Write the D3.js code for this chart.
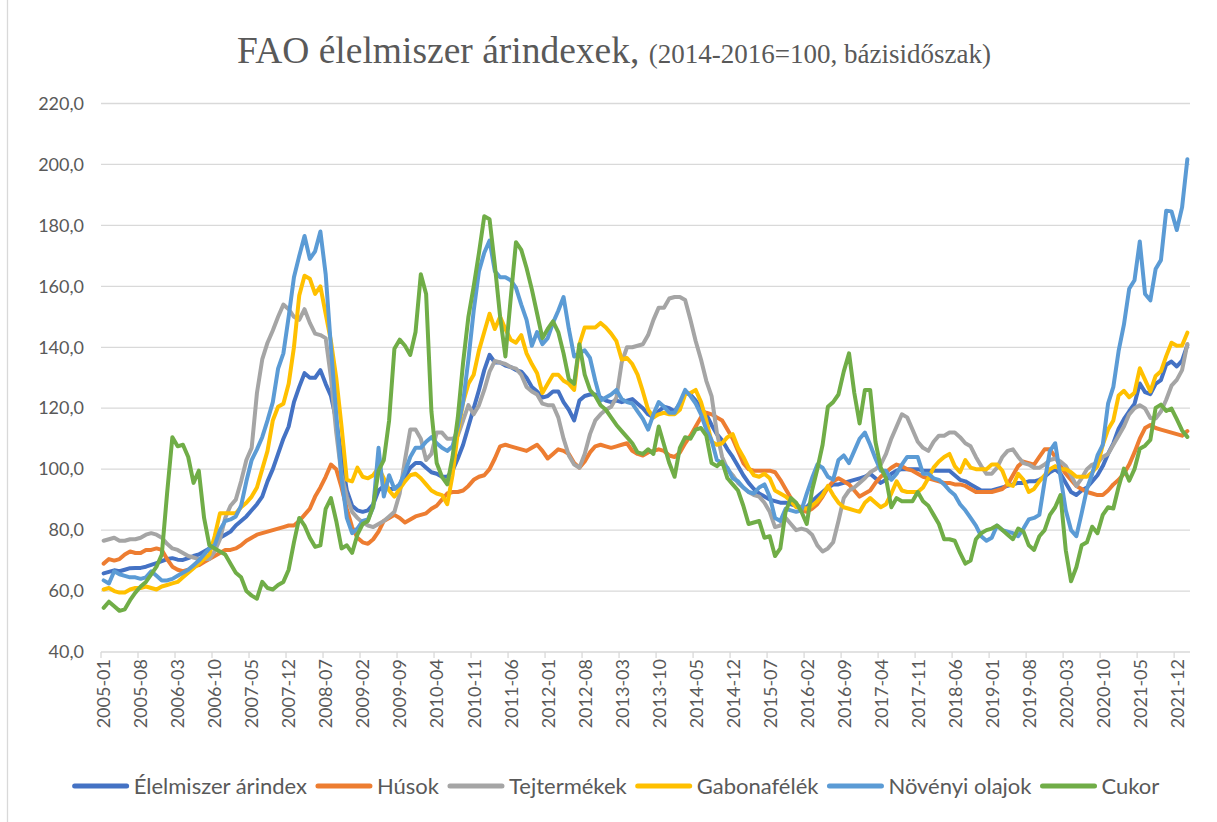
<!DOCTYPE html>
<html><head><meta charset="utf-8">
<script src="https://cdn.jsdelivr.net/npm/d3@7"></script>
<style>body{margin:0;background:#fff}svg{display:block}</style>
</head><body>
<svg id="chart" width="1217" height="822"></svg>
<script>
// ---- data (FAO indices, 2014-2016=100), monthly 2005-01 .. 2022-02 ----
const firstYear = 2005, lastYear = 2022, lastMonth = 2;
const categories = [];
for (let yy = firstYear; yy <= lastYear; yy++) {
  for (let mm = 1; mm <= 12; mm++) {
    if (yy === lastYear && mm > lastMonth) break;
    categories.push(yy + "-" + String(mm).padStart(2, "0"));
  }
}
const tickLabels = ["2005-01","2005-08","2006-03","2006-10","2007-05","2007-12","2008-07","2009-02","2009-09","2010-04","2010-11","2011-06","2012-01","2012-08","2013-03","2013-10","2014-05","2014-12","2015-07","2016-02","2016-09","2017-04","2017-11","2018-06","2019-01","2019-08","2020-03","2020-10","2021-05","2021-12"];
const yTicks = [40,60,80,100,120,140,160,180,200,220];

const elelmiszer = [
65.8,66.3,66.8,66.5,67.0,67.5,67.6,67.6,68.0,68.6,69.2,69.8,
70.5,70.8,70.3,70.2,70.8,71.5,72.0,73.0,74.0,75.5,77.5,78.5,
79.5,81.5,83.0,84.5,86.5,88.5,91.0,96.0,100.0,105.0,110.0,114.0,
122.0,127.0,131.5,130.0,130.0,132.5,128.0,124.0,116.0,104.0,93.0,88.0,
86.5,86.0,86.5,88.5,93.0,94.5,93.5,93.5,95.0,97.5,100.5,102.0,
102.0,100.5,99.0,98.5,97.5,97.5,99.5,103.5,108.0,114.0,120.0,126.0,
132.5,137.5,135.0,135.0,134.0,133.5,132.5,132.0,130.0,127.0,125.5,123.5,
124.0,125.5,125.5,122.0,119.5,116.0,122.5,124.0,124.5,124.5,123.5,122.5,
122.0,122.5,122.0,122.5,123.0,121.5,120.0,118.0,117.0,119.0,120.5,120.0,
119.0,121.5,125.0,124.5,122.5,120.0,118.0,114.5,111.5,109.5,106.5,104.0,
101.0,98.0,95.5,93.5,92.0,91.0,90.0,89.5,89.0,89.0,88.5,88.0,
87.5,87.5,89.5,91.0,92.5,94.0,95.0,95.0,95.5,96.0,96.5,97.0,
97.5,98.5,97.0,95.5,96.5,98.5,99.5,100.0,100.0,100.0,100.0,99.5,
99.5,99.5,99.5,99.5,99.5,98.0,96.5,96.0,95.0,94.0,93.0,93.0,
93.0,93.5,94.0,94.5,95.0,95.5,95.5,96.0,96.0,96.5,97.5,99.0,
100.0,98.5,95.5,92.5,91.5,93.0,94.0,96.0,98.0,101.0,105.0,108.5,
113.3,116.4,119.0,121.4,128.1,125.3,124.6,128.0,129.2,134.3,135.3,133.7,
135.6,140.7];

const husok = [
69.0,70.5,70.0,70.5,72.0,73.0,72.5,72.5,73.5,73.5,74.0,73.5,
70.5,68.0,67.0,66.5,67.0,68.0,68.5,69.5,70.5,71.5,72.5,73.5,
73.5,74.0,75.0,76.5,77.5,78.5,79.0,79.5,80.0,80.5,81.0,81.5,
81.5,83.0,85.0,87.0,91.0,94.0,97.5,101.5,100.0,94.0,87.0,81.0,
77.5,76.0,75.5,77.0,79.5,83.0,84.0,85.0,84.0,82.5,83.5,84.5,
85.0,85.5,87.0,88.0,90.0,92.0,92.5,92.5,93.0,94.5,96.5,97.5,
98.0,100.0,103.5,107.5,108.0,107.5,107.0,106.5,106.0,107.0,108.0,106.0,
103.5,105.0,106.5,106.0,105.0,102.0,100.5,102.5,105.5,107.5,108.0,107.5,
107.0,107.5,108.0,108.5,106.0,105.0,104.5,105.5,106.0,106.5,106.0,104.5,
104.0,105.5,108.5,111.0,114.0,117.0,118.5,118.0,117.0,116.0,113.0,110.0,
106.0,102.0,100.0,99.5,99.5,99.5,99.5,99.0,96.5,93.5,90.5,88.5,
86.5,86.0,87.0,88.5,91.0,94.0,96.0,97.0,96.0,95.0,93.0,91.0,
92.0,93.0,95.5,97.5,99.0,100.5,101.5,101.0,100.0,99.5,98.5,97.5,
97.0,96.5,96.0,95.5,95.5,95.0,95.0,94.5,93.5,92.5,92.5,92.5,
92.5,93.0,93.5,95.0,98.0,101.0,102.5,102.0,101.5,104.0,106.5,106.5,
104.0,101.0,98.5,96.5,94.5,93.5,92.5,92.0,91.5,91.5,93.0,95.0,
96.5,98.5,101.5,105.5,110.0,113.5,114.5,113.5,113.0,112.5,112.0,111.5,
111.0,112.5];

const tejtermekek = [
76.5,77.0,77.5,76.5,76.5,77.0,77.0,77.5,78.5,79.0,78.5,77.5,
75.5,74.0,73.5,72.5,71.5,71.0,70.5,70.5,70.5,73.0,77.0,84.0,
88.0,90.0,96.0,103.0,107.0,125.0,136.0,141.5,145.5,150.0,154.0,152.5,
150.0,149.0,152.5,148.0,144.5,144.0,143.0,130.0,112.0,98.0,91.0,86.0,
84.0,82.5,81.5,81.0,82.0,83.0,84.5,86.0,92.0,103.0,113.0,113.0,
110.0,103.0,105.0,112.0,112.0,110.0,110.0,111.0,116.0,121.0,118.0,121.0,
126.0,132.0,135.5,135.0,134.5,133.5,133.0,131.0,127.0,125.5,124.5,121.5,
121.0,121.0,117.0,110.0,104.5,101.5,100.5,105.0,111.5,116.0,118.0,119.5,
120.5,123.5,135.0,140.0,140.0,140.5,141.0,144.0,149.0,153.0,153.0,156.0,
156.5,156.5,155.5,149.0,142.0,136.0,129.0,124.0,112.0,104.0,100.0,98.0,
95.5,94.0,92.5,91.5,91.0,89.0,86.0,81.0,81.5,84.0,82.0,80.0,
80.5,80.0,78.5,75.0,73.0,74.0,76.0,83.0,90.5,93.0,94.0,95.5,
97.0,99.0,100.0,101.5,105.0,110.0,114.0,118.0,117.0,113.0,109.0,107.0,
106.0,109.0,111.0,111.0,112.0,112.0,110.5,108.5,107.5,104.0,101.0,98.5,
98.5,100.5,104.0,106.0,106.5,104.0,102.0,101.5,100.5,100.5,101.5,103.0,
103.5,102.5,101.0,98.0,94.5,97.0,100.0,101.5,102.0,104.0,105.0,108.0,
111.0,114.0,118.0,120.0,121.0,119.9,116.8,116.6,118.9,122.8,127.4,129.3,
132.5,141.1];

const gabonafelek = [
60.5,61.0,60.0,59.5,59.5,60.5,61.0,61.0,61.5,61.0,60.5,61.5,
62.0,62.5,63.0,64.5,66.0,67.5,69.0,70.5,72.0,78.0,85.5,85.5,
85.5,85.5,87.5,89.0,91.0,94.0,100.0,106.0,116.0,120.5,121.5,128.0,
140.0,157.0,163.5,162.5,157.5,160.0,151.0,142.0,130.0,114.0,96.5,96.0,
100.5,97.5,97.0,98.0,100.5,97.0,93.0,91.0,93.5,96.0,98.0,98.5,
97.0,95.0,93.0,92.0,91.5,88.5,98.0,112.0,122.0,128.0,131.0,139.0,
145.0,151.0,146.0,150.0,146.0,142.5,141.5,144.0,138.0,134.5,131.5,125.0,
128.0,131.0,131.0,129.0,128.0,126.0,141.0,146.5,146.5,146.5,148.0,146.5,
144.5,142.0,136.0,136.5,134.5,131.0,125.5,119.5,117.0,118.0,118.5,118.0,
118.0,119.5,124.5,125.0,126.0,122.0,116.0,109.0,108.0,108.5,110.5,111.5,
107.0,104.0,100.5,98.0,97.5,98.5,97.0,93.0,92.0,91.0,89.5,87.5,
87.5,87.0,88.0,89.5,91.5,94.5,91.5,89.0,87.5,87.0,86.5,86.0,
89.0,90.5,89.0,87.5,88.5,92.0,96.0,93.0,92.5,92.5,92.5,94.0,
97.0,100.5,102.5,104.0,105.0,101.0,99.0,103.0,100.5,100.0,100.0,100.0,
101.5,101.5,99.5,95.0,94.5,98.5,96.5,92.5,93.5,96.0,98.0,100.0,
101.0,100.0,100.0,99.0,97.5,97.5,97.5,99.0,101.0,108.0,113.0,116.0,
124.2,125.7,123.6,125.1,133.1,129.3,125.5,130.6,132.1,137.1,141.5,140.5,
140.6,144.8];

const novenyiOlajok = [
63.5,62.5,66.5,65.5,65.0,64.5,64.5,64.0,64.5,66.5,65.0,63.5,
63.5,64.0,65.0,66.0,67.0,68.5,70.0,72.0,74.0,75.0,80.0,83.0,
83.5,84.5,88.0,96.0,103.0,106.5,110.5,116.0,122.0,133.0,138.0,150.0,
163.0,170.0,176.5,169.0,171.5,178.0,164.0,140.0,118.0,97.0,84.0,79.0,
80.5,83.0,83.5,87.5,107.0,91.0,98.0,93.5,95.0,99.0,104.0,107.0,
107.0,109.0,110.5,108.5,107.0,106.0,107.5,114.0,122.0,136.0,152.0,165.0,
171.0,175.0,165.0,163.0,163.0,162.0,159.5,154.0,149.0,140.5,145.0,141.0,
143.0,148.0,152.0,156.5,146.0,137.0,138.0,139.0,136.5,129.0,122.5,123.5,
124.5,126.0,123.0,122.0,121.5,119.0,116.5,113.0,118.0,122.0,120.5,118.5,
118.5,122.0,126.0,124.0,121.5,118.0,113.0,109.5,103.0,102.0,100.5,97.0,
96.0,94.0,92.5,92.0,94.0,95.0,91.0,84.0,83.0,87.0,86.5,86.0,
86.5,92.0,97.0,101.5,100.5,97.5,96.5,103.0,104.5,102.0,106.0,110.0,
112.0,108.0,103.5,99.5,99.5,96.5,98.5,101.5,104.0,104.0,104.0,98.5,
98.5,97.0,96.5,95.0,93.0,91.5,88.5,86.5,84.0,81.5,78.0,76.5,
77.5,81.5,80.0,79.5,79.0,78.0,80.5,83.5,84.0,85.0,96.0,106.0,
108.5,97.5,86.5,80.0,78.0,85.5,93.5,98.5,104.5,108.0,121.5,127.0,
138.8,147.4,159.2,162.0,174.7,157.5,155.4,165.7,168.6,184.8,184.6,178.5,
185.9,201.7];

const cukor = [
54.5,56.5,55.0,53.5,54.0,57.0,59.5,61.5,63.0,65.5,68.0,72.0,
92.0,110.5,107.5,108.0,104.0,95.5,99.5,84.0,75.0,74.0,73.0,72.0,
69.0,66.0,64.5,60.0,58.5,57.5,63.0,61.0,60.5,62.0,63.0,67.0,
76.0,84.0,81.5,77.5,74.5,75.0,87.0,90.5,83.0,74.0,75.0,72.5,
78.5,82.0,83.0,88.0,99.5,103.0,116.0,139.5,142.5,140.5,137.5,145.0,
164.0,157.5,119.0,102.0,97.5,95.0,104.0,117.0,135.0,150.0,160.0,171.0,
183.0,182.0,167.0,150.0,137.0,156.0,174.5,172.0,166.0,159.0,151.0,143.0,
146.0,148.5,145.0,138.0,129.5,128.0,141.0,131.0,126.0,124.0,121.0,119.5,
117.0,114.5,112.5,110.5,108.5,105.5,105.0,106.5,105.0,114.0,108.0,102.0,
97.5,107.0,110.5,110.0,113.0,113.5,111.0,102.0,101.0,102.5,97.0,95.0,
93.0,88.0,82.0,82.5,83.0,77.5,78.0,71.5,74.0,86.0,90.5,89.0,
86.0,82.0,93.0,100.0,108.0,120.5,122.0,124.5,132.0,138.0,125.0,115.0,
126.0,126.0,109.0,100.5,97.0,87.5,90.5,89.5,89.5,89.5,92.5,89.5,
88.0,85.0,82.0,77.0,77.0,76.5,72.5,69.0,70.0,77.0,79.0,80.0,
80.5,81.5,80.0,78.5,77.0,80.5,79.5,75.0,73.5,78.0,80.0,85.0,
87.5,91.5,73.4,63.2,67.8,75.0,76.0,81.1,79.0,85.0,87.5,87.1,
94.2,100.2,96.2,100.0,106.7,107.7,109.6,120.1,121.2,119.1,119.9,116.4,
112.7,110.6];

const seriesNames  = ["Élelmiszer árindex","Húsok","Tejtermékek","Gabonafélék","Növényi olajok","Cukor"];
const seriesValues = [elelmiszer, husok, tejtermekek, gabonafelek, novenyiOlajok, cukor];
const seriesColors = ["#4472C4","#ED7D31","#A5A5A5","#FFC000","#5B9BD5","#70AD47"];

// ---- layout ----
const W = 1217, H = 822;
const plot = {left: 101, right: 1190, top: 103.5, bottom: 652};
const svg = d3.select("#chart");
const textColor = "#595959", gridColor = "#D9D9D9";
const uiFont = "Lato, 'Noto Sans', sans-serif";

svg.append("rect").attr("width", W).attr("height", H).attr("fill", "#fff");
svg.append("line").attr("x1", 7.5).attr("x2", 7.5).attr("y1", 0).attr("y2", H)
  .attr("stroke", gridColor).attr("stroke-width", 1.3);

const x = d3.scalePoint().domain(categories).range([plot.left, plot.right]).padding(0.5);
const step = x.step();
const y = d3.scaleLinear().domain([40, 220]).range([plot.bottom, plot.top]);

// title
const title = svg.append("text").attr("x", 614).attr("y", 63).attr("text-anchor", "middle")
  .attr("font-family", "'Liberation Serif', 'Times New Roman', serif").attr("fill", textColor);
title.append("tspan").attr("font-size", 37.5).text("FAO élelmiszer árindexek, ");
title.append("tspan").attr("font-size", 27).text("(2014-2016=100, bázisidőszak)");

// gridlines
svg.append("g").selectAll("line").data(yTicks).join("line")
  .attr("x1", plot.left).attr("x2", plot.right)
  .attr("y1", d => y(d)).attr("y2", d => y(d))
  .attr("stroke", gridColor).attr("stroke-width", 1.3);

// y axis labels
const yAxis = d3.axisLeft(y).tickValues(yTicks).tickSize(0).tickPadding(0)
  .tickFormat(d => d3.format(".1f")(d).replace(".", ","));
const gy = svg.append("g").attr("transform", "translate(84,0)").call(yAxis);
gy.select(".domain").remove();
gy.selectAll("text").attr("font-family", uiFont).attr("font-size", 18).attr("fill", textColor);

// x axis tick marks (at category boundaries) and labels (at category centres)
svg.append("g").selectAll("line").data(tickLabels).join("line")
  .attr("x1", d => x(d) - step / 2).attr("x2", d => x(d) - step / 2)
  .attr("y1", plot.bottom).attr("y2", plot.bottom + 6)
  .attr("stroke", gridColor).attr("stroke-width", 1.3);
const xAxis = d3.axisBottom(x).tickValues(tickLabels).tickSize(0).tickPadding(0);
const gx = svg.append("g").attr("transform", `translate(0,${plot.bottom})`).call(xAxis);
gx.select(".domain").remove();
gx.selectAll("text")
  .attr("font-family", uiFont).attr("font-size", 18).attr("fill", textColor)
  .attr("text-anchor", "end").attr("dy", "0.35em").attr("y", 0).attr("x", -7)
  .attr("transform", "rotate(-90)");

// lines
const line = d3.line().x((d, i) => x(categories[i])).y(d => y(d));
svg.append("g").selectAll("path").data(seriesValues).join("path")
  .attr("d", d => line(d)).attr("fill", "none")
  .attr("stroke", (d, i) => seriesColors[i]).attr("stroke-width", 4)
  .attr("stroke-linejoin", "round").attr("stroke-linecap", "round");

// legend
const lg = svg.append("g");
const items = lg.selectAll("g").data(seriesNames).join("g");
items.append("line").attr("x1", 0).attr("x2", 52).attr("y1", 0).attr("y2", 0)
  .attr("stroke", (d, i) => seriesColors[i]).attr("stroke-width", 5).attr("stroke-linecap", "round");
items.append("text").attr("x", 59).attr("dy", "0.35em").text(d => d)
  .attr("font-family", uiFont).attr("font-size", 22).attr("fill", textColor);
let cx = 0; const pos = [];
items.each(function () {
  pos.push(cx);
  const tw = d3.select(this).select("text").node().getComputedTextLength();
  cx += 59 + tw + 11;
});
const total = cx - 11;
const lx0 = 617 - total / 2;
items.attr("transform", (d, i) => `translate(${lx0 + pos[i]},786)`);
</script>
</body></html>
